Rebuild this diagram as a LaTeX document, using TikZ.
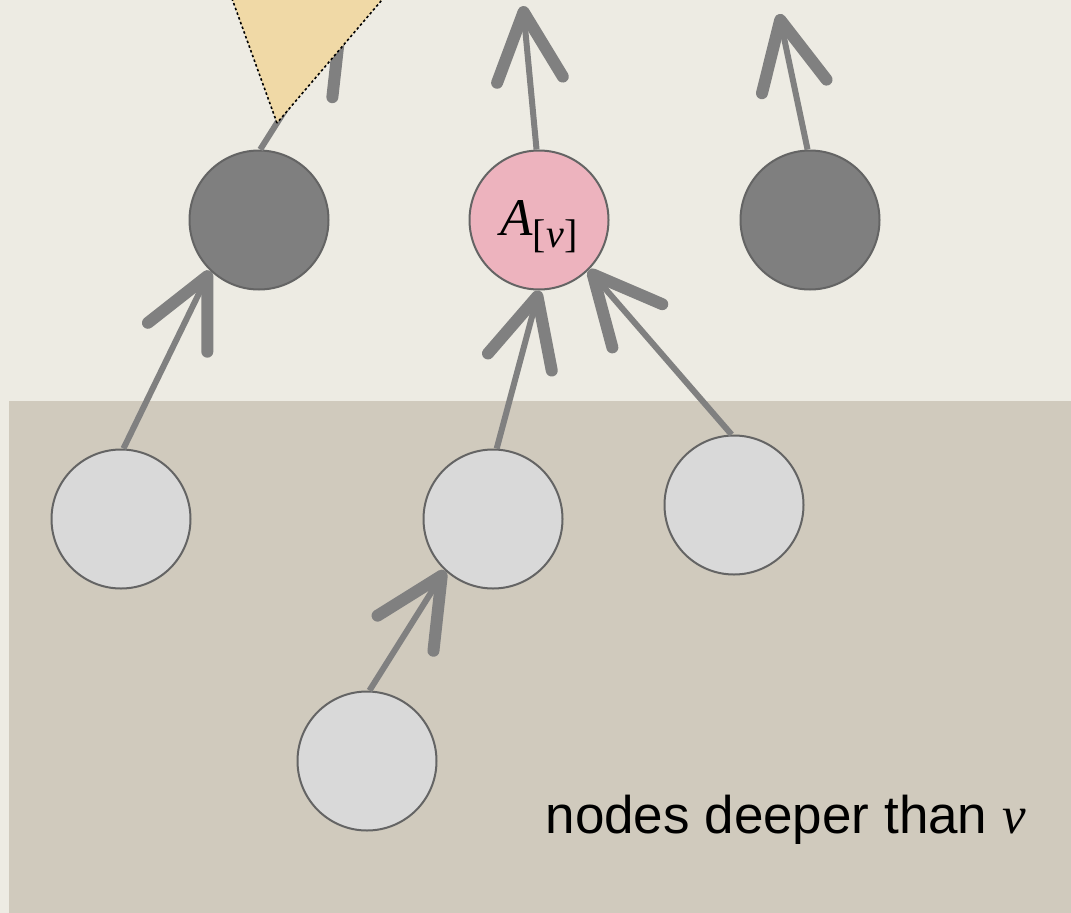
\documentclass[tikz,border=0pt]{standalone}
\usepackage{fontspec}
\setmainfont{Liberation Sans}
\newfontfamily\varfont{Liberation Serif}
\usetikzlibrary{arrows.meta}

\definecolor{paper}{RGB}{237,235,227}
\definecolor{deepzone}{RGB}{208,202,189}
\definecolor{edgegray}{RGB}{128,128,128}
\definecolor{rimgray}{RGB}{100,100,100}
\definecolor{darknode}{RGB}{127,127,127}
\definecolor{lightnode}{RGB}{217,217,217}
\definecolor{pinknode}{RGB}{237,179,190}
\definecolor{subtree}{RGB}{240,217,166}

\def \nodeSize {139pt}
\def \var #1{{\varfont\itshape #1}}

\begin{document}
\begin{tikzpicture}[x=1pt,y=-1pt,
      vertex/.style={circle,minimum size=\nodeSize,inner sep=0pt,draw=rimgray,line width=2pt},
      edge/.style={draw=edgegray,line width=6pt,-{Straight Barb[length=68pt,width=66pt,line width=12pt,round]}}]
         \useasboundingbox (0,0) rectangle (1071,913);
         \clip (0,0) rectangle (1071,913);
         \fill[paper] (0,0) rectangle (1071,913);
         \fill[deepzone] (9,401) rectangle (1071,913);

         \node[vertex,fill=darknode] (d1) at (259,220) {};
         \node[vertex,fill=pinknode,text height=30pt,text depth=0pt] (v) at (539,220)
            {\fontsize{53}{58}\selectfont\var{A}\raisebox{-12pt}{\fontsize{40}{44}\selectfont\varfont[\var{v}]}};
         \node[vertex,fill=darknode] (d2) at (810,220) {};
         \node[vertex,fill=lightnode] (c1) at (121,519) {};
         \node[vertex,fill=lightnode] (c2) at (493,519) {};
         \node[vertex,fill=lightnode] (c3) at (734,505) {};
         \node[vertex,fill=lightnode] (c4) at (367,761) {};

         \coordinate (up1) at (344,17);
         \coordinate (upv) at (523,6);
         \coordinate (up2) at (779,14);

         \draw[edge] (c1.88) -- (d1.226);
         \draw[edge] (c2.87) -- (v.270);
         \draw[edge] (c3.92) -- (v.315);
         \draw[edge] (c4.88) -- (c2.227);
         \draw[edge] (d1.89) -- (up1);
         \draw[edge] (v.92) -- (upv);
         \draw[edge] (d2.92) -- (up2);

         \filldraw[fill=subtree,draw=black,line width=1.6pt,dash pattern=on 2.5pt off 2.5pt]
            (277,123) -- (218,-40) -- (416,-40) -- cycle;

         \node[anchor=base west] (deeplabel) at (542,833) {\fontsize{53}{60}\selectfont nodes deeper than \var{v}};
      \end{tikzpicture}
\end{document}
